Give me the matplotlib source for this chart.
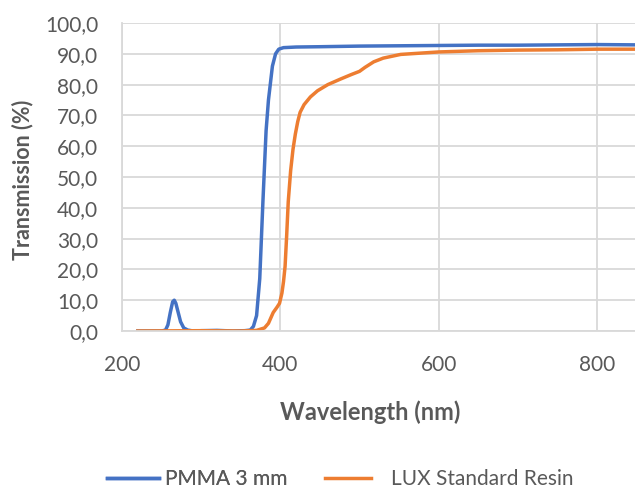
import matplotlib
matplotlib.use('Agg')
import matplotlib.pyplot as plt
from matplotlib.ticker import FuncFormatter

plt.rcParams['font.family'] = ['Lato', 'DejaVu Sans']

# PMMA 3 mm
pmma_nm = [220, 250, 255, 258, 261, 264, 266, 268, 271, 274, 278, 283, 290, 300, 320, 340,
           355, 362, 366, 370, 374, 378, 382, 385, 390, 394, 398, 404, 420, 450, 500, 550,
           600, 650, 700, 750, 800, 850]
pmma_t = [0.0, 0.0, 0.3, 2.0, 6.0, 9.5, 10.0, 9.0, 6.0, 3.0, 1.0, 0.3, 0.0, 0.1, 0.2, 0.0,
          0.1, 0.3, 1.5, 5.0, 17.0, 42.0, 65.0, 75.0, 86.0, 90.0, 91.5, 92.0, 92.2, 92.3, 92.5, 92.6,
          92.7, 92.8, 92.8, 92.9, 93.0, 92.9]

# LUX Standard Resin
lux_nm = [220, 300, 350, 370, 380, 385, 391, 396, 399, 402, 404, 406, 408, 410, 413, 416,
          419, 422, 425, 430, 438, 447, 460, 476, 490, 500, 507, 518, 530, 552, 600, 650,
          700, 750, 800, 850]
lux_t = [0.0, 0.1, 0.0, 0.2, 1.0, 2.5, 6.0, 7.8, 9.0, 12.3, 16.0, 21.0, 31.0, 42.0, 52.0, 59.0,
         64.0, 68.0, 71.0, 73.5, 76.0, 78.0, 80.0, 81.8, 83.3, 84.3, 85.6, 87.4, 88.6, 89.8, 90.6, 91.0,
         91.2, 91.3, 91.5, 91.5]

grey = '#595959'
grid = '#d9d9d9'

fig = plt.figure(figsize=(6.35, 4.91), dpi=100)
ax = fig.add_axes([122 / 635, 1 - 331 / 491, (635 - 122) / 635, (331 - 23) / 491])

l1, = ax.plot(pmma_nm, pmma_t, color='#4472c4', lw=2.5, label='PMMA 3 mm')
l2, = ax.plot(lux_nm, lux_t, color='#ed7d31', lw=2.5, label='LUX Standard Resin')

ax.set_xlim(200, 848)
ax.set_ylim(0, 100)
ax.set_xticks([200, 400, 600, 800])
ax.set_yticks(range(0, 101, 10))
ax.yaxis.set_major_formatter(FuncFormatter(lambda v, p: f'{v:.1f}'.replace('.', ',')))
ax.grid(True, color=grid, lw=1.3)
ax.set_axisbelow(True)
for s in ['top', 'right']:
    ax.spines[s].set_visible(False)
for s in ['left', 'bottom']:
    ax.spines[s].set_color(grid)
    ax.spines[s].set_linewidth(1.3)
ax.tick_params(length=0, colors=grey, labelsize=15)
ax.tick_params(axis='y', pad=17)
ax.tick_params(axis='x', pad=17)

ax.set_xlabel('Wavelength (nm)', fontsize=17, fontweight='bold', color=grey)
ax.set_ylabel('Transmission (%)', fontsize=15.5, fontweight='bold', color=grey)
ax.xaxis.label.set_va('center')
ax.yaxis.label.set_va('center')
ax.xaxis.set_label_coords((370 - 122) / 513, (331 - 412) / 308)
ax.yaxis.set_label_coords((23 - 122) / 513, 0.49)

leg1 = fig.legend(handles=[l1], loc='center left', bbox_to_anchor=(88 / 635, 1 - 479 / 491),
                  frameon=False, fontsize=15, labelcolor=grey, handlelength=2.5, handletextpad=0.3)
fig.add_artist(leg1)
fig.legend(handles=[l2], loc='center left', bbox_to_anchor=(306 / 635, 1 - 479 / 491),
           frameon=False, fontsize=15, labelcolor=grey, handlelength=2.2, handletextpad=1.0)

fig.savefig('out.png', dpi=100)
